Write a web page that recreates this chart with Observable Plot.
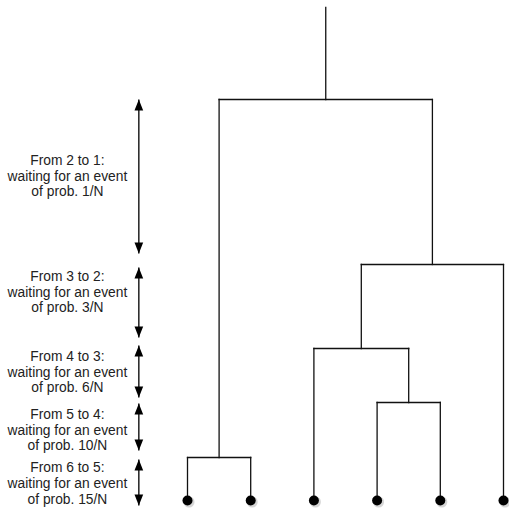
<!DOCTYPE html>
<html>
<head>
<meta charset="utf-8">
<script src="https://cdn.jsdelivr.net/npm/d3@7"></script>
<script src="https://cdn.jsdelivr.net/npm/@observablehq/plot@0.6"></script>
<style>
  html, body { margin: 0; padding: 0; background: #fff; }
</style>
</head>
<body>
<div id="chart"></div>
<script>
// ---- data ----
// leaves (sampled lineages), positioned by index
const leafIds = ["L0", "L1", "L2", "L3", "L4", "L5"];
const leafPos = [0, 1, 2, 3, 4, 5];
// coalescence events (internal nodes), bottom to top
const nodeIds   = ["A",  "B",  "C",  "D",  "R"];
const nodeLeft  = ["L0", "L3", "L2", "C",  "A"];
const nodeRight = ["L1", "L4", "B",  "L5", "D"];
const nodeTime  = [0.43, 0.98, 1.52, 2.36, 4.01];
const rootTop = 4.93;

// waiting-interval annotations
const fromK   = [2, 3, 4, 5, 6];
const probNum = [1, 3, 6, 10, 15];
const arrowTop    = [4.01, 2.33, 1.55, 0.97, 0.41];
const arrowBottom = [2.47, 1.63, 1.03, 0.50, -0.05];
const labelTime   = [3.25, 2.09, 1.29, 0.71, 0.175];

// ---- build tree ----
const pos = new Map(), time = new Map();
leafIds.forEach((id, i) => { pos.set(id, leafPos[i]); time.set(id, 0); });
const segs = [];
nodeIds.forEach((id, i) => {
  const l = nodeLeft[i], r = nodeRight[i], t = nodeTime[i];
  const xl = pos.get(l), xr = pos.get(r);
  pos.set(id, (xl + xr) / 2); time.set(id, t);
  segs.push({x1: xl, y1: t, x2: xr, y2: t});
  segs.push({x1: xl, y1: time.get(l), x2: xl, y2: t});
  segs.push({x1: xr, y1: time.get(r), x2: xr, y2: t});
});
const rootId = nodeIds[nodeIds.length - 1];
segs.push({x1: pos.get(rootId), y1: time.get(rootId), x2: pos.get(rootId), y2: rootTop});

const leaves = leafIds.map((id, i) => ({x: leafPos[i], y: 0}));
const notes = fromK.map((k, i) => ({
  top: arrowTop[i], bottom: arrowBottom[i], t: labelTime[i],
  label: `From ${k} to ${k - 1}:\nwaiting for an event\nof prob. ${probNum[i]}/N`
}));

const arrowX = -0.77, labelX = -1.9;

// custom arrowhead symbols with the tip at the origin
const headUp = {draw(ctx, size) {
  const r = Math.sqrt(size / Math.PI), h = 2.2 * r, w = 0.87 * r;
  ctx.moveTo(0, 0); ctx.lineTo(w, h); ctx.lineTo(-w, h); ctx.closePath();
}};
const headDown = {draw(ctx, size) {
  const r = Math.sqrt(size / Math.PI), h = 2.2 * r, w = 0.87 * r;
  ctx.moveTo(0, 0); ctx.lineTo(w, -h); ctx.lineTo(-w, -h); ctx.closePath();
}};

const font = "Liberation Sans, Arial, Helvetica, sans-serif";

const chart = Plot.plot({
  width: 509,
  height: 508,
  margin: 0,
  x: {domain: [0, 5], range: [187, 503], axis: null},
  y: {domain: [0, 5], range: [500, 0], axis: null},
  style: {fontFamily: font, background: "#fff"},
  marks: [
    Plot.link(segs, {x1: "x1", y1: "y1", x2: "x2", y2: "y2", stroke: "#111", strokeWidth: 1.3, strokeLinecap: "square"}),
    Plot.dot(leaves, {x: "x", y: "y", r: 5.5, dx: 1.5, dy: 1.5, fill: "#bbb", fillOpacity: 0.6, stroke: "none"}),
    Plot.dot(leaves, {x: "x", y: "y", r: 5, fill: "#000", stroke: "none"}),
    Plot.link(notes, {x1: () => arrowX, x2: () => arrowX, y1: "top", y2: "bottom", stroke: "#111", strokeWidth: 1.4}),
    Plot.dot(notes, {x: () => arrowX, y: "top", r: 5, symbol: headUp, fill: "#000", stroke: "none"}),
    Plot.dot(notes, {x: () => arrowX, y: "bottom", r: 5, symbol: headDown, fill: "#000", stroke: "none"}),
    Plot.text(notes, {x: () => labelX, y: "t", text: "label", fontSize: 13.8, lineHeight: 1.15, textAnchor: "middle", fill: "#222", fontFamily: font})
  ]
});
document.getElementById("chart").appendChild(chart);
</script>
</body>
</html>
